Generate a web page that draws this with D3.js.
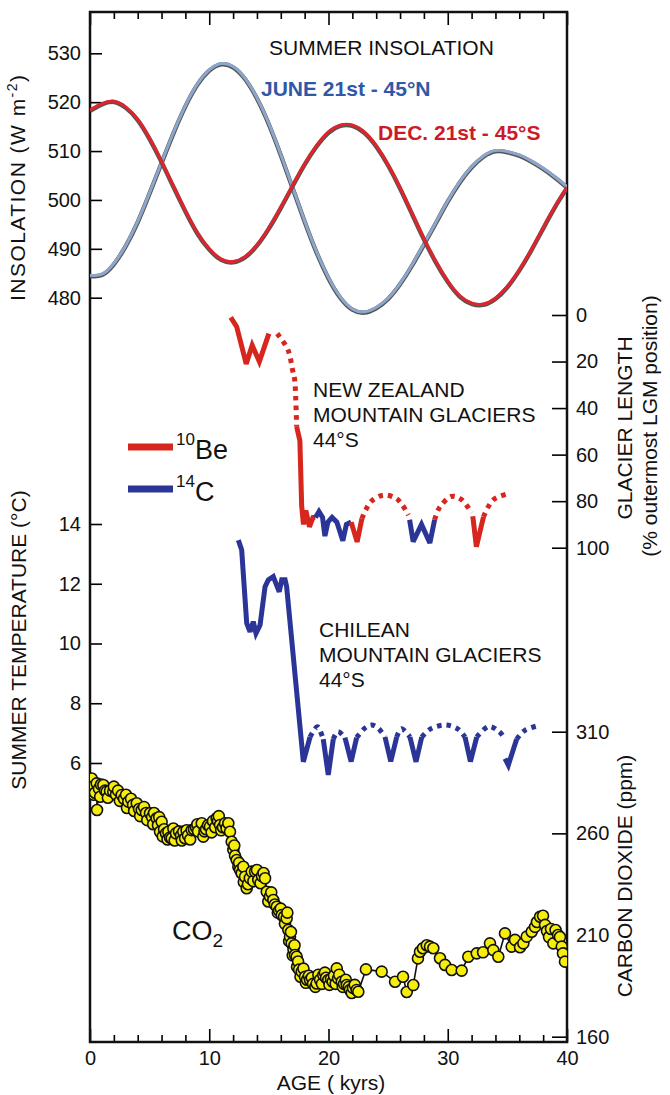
<!DOCTYPE html>
<html>
<head>
<meta charset="utf-8">
<script src="https://cdn.jsdelivr.net/npm/d3@7"></script>
<style>
  body { margin: 0; background: #fff; }
  svg { display: block; font-family: "Liberation Sans", Arial, Helvetica, sans-serif; }
</style>
</head>
<body>
<script>
// ---- data (age in kyr BP) ----
const insAge = [0,1,2,3,4,5,6,7,8,9,10,11,12,13,14,15,16,17,18,19,20,
                21,22,23,24,25,26,27,28,29,30,31,32,33,34,35,36,37,38,39,40];
// June 21st, 45N  (W m-2)
const juneIns = [484.6,484.8,487.0,490.7,495.6,501.5,507.7,513.8,519.3,523.7,526.6,
                 527.9,527.3,524.9,520.9,515.6,509.3,502.5,495.7,489.4,484.1,
                 480.1,477.7,477.1,478.0,479.9,482.9,486.7,491.0,495.4,499.8,
                 503.7,506.8,509.0,510.1,509.9,509.2,508.0,506.5,504.7,502.7];
// Dec 21st, 45S
const decIns = [518.4,519.7,520.2,519.0,516.5,512.6,507.9,502.8,497.8,493.3,490.0,
                487.9,487.4,488.4,490.8,494.3,498.5,503.0,507.4,511.1,513.9,
                515.3,515.3,513.9,511.1,507.2,502.5,497.3,492.1,487.4,483.4,
                480.4,478.9,478.7,479.9,482.3,485.7,489.8,494.3,498.7,502.6];

// New Zealand glacier length (% of outermost LGM position)
const nzSegments = [
  { kind: "10Be", pts: [[11.8,1],[12.3,5],[13.1,21],[13.6,13],[14.2,20],[15.0,8]] },
  { kind: "inferred", pts: [[15.7,8],[16.6,15],[17.0,24],[17.2,30],[17.33,48]] },
  { kind: "10Be", pts: [[17.33,48],[17.6,54],[17.75,82],[17.9,90],[18.1,84],[18.4,91],[18.7,87],[18.9,87]] },
  { kind: "14C", pts: [[18.9,87],[19.2,84.5],[19.5,87],[19.7,95],[19.95,89],[20.3,87],[20.7,89],[21.2,97],[21.5,90],[21.9,89]] },
  { kind: "10Be", pts: [[21.9,89],[22.4,97.5],[22.8,87.5]] },
  { kind: "inferred", pts: [[22.8,87.5],[23.1,84],[23.6,80],[24.6,77.4],[25.6,78.6],[26.2,81.7],[26.7,86]] },
  { kind: "14C", pts: [[26.8,88],[27.1,97.4],[27.8,90],[28.5,98],[28.9,88]] },
  { kind: "inferred", pts: [[28.9,88],[29.35,82.4],[30.3,78],[31.2,79.5],[32.0,85]] },
  { kind: "10Be", pts: [[32.1,86.5],[32.4,99.6],[33.0,86.7]] },
  { kind: "inferred", pts: [[33.0,86.7],[33.8,79.5],[35.2,76.6]] }
];

// Chilean glaciers, plotted against summer temperature (C)
const chileSegments = [
  { kind: "14C", pts: [[12.44,13.46],[12.72,13.13],[13.14,10.68],[13.42,10.39],[13.69,10.73],[13.92,10.34],
                       [14.26,10.62],[14.68,11.9],[14.95,12.13],[15.37,12.24],[15.87,11.73],[16.08,12.13],
                       [16.36,12.13],[16.49,11.9],[17.89,6.04],[18.45,6.87]] },
  { kind: "inferred", pts: [[18.45,6.87],[18.8,7.1],[19.14,7.2],[19.56,6.8]] },
  { kind: "14C", pts: [[19.56,6.8],[19.98,5.6],[20.4,6.8]] },
  { kind: "inferred", pts: [[20.4,6.8],[20.8,7.05],[21.38,6.85]] },
  { kind: "14C", pts: [[21.38,6.85],[21.9,6.05],[22.36,6.85]] },
  { kind: "inferred", pts: [[22.36,6.85],[23.0,7.15],[23.62,7.27],[24.2,7.15],[24.74,6.87]] },
  { kind: "14C", pts: [[24.74,6.87],[25.22,6.05],[25.72,6.87]] },
  { kind: "inferred", pts: [[25.72,6.87],[26.14,7.15],[26.83,6.87]] },
  { kind: "14C", pts: [[26.83,6.87],[27.34,6.04],[27.82,6.87]] },
  { kind: "inferred", pts: [[27.82,6.87],[28.6,7.15],[29.77,7.27],[30.8,7.15],[31.45,6.87]] },
  { kind: "14C", pts: [[31.45,6.87],[31.9,6.05],[32.43,6.87]] },
  { kind: "inferred", pts: [[32.43,6.87],[33.4,7.22],[34.3,7.05],[34.8,6.8]] },
  { kind: "14C", pts: [[34.8,6.15],[35.08,5.93],[35.78,6.8]] },
  { kind: "inferred", pts: [[35.78,6.8],[36.5,7.1],[37.74,7.27]] }
];

// ice core CO2 (ppm)
const co2Age = [
  0.04,0.14,0.25,0.30,0.42,0.56,0.59,0.75,0.85,0.92,
  1.12,1.26,1.40,1.50,1.68,1.95,2.00,2.18,2.35,2.50,
  2.66,2.85,3.02,3.10,3.21,3.44,3.61,3.70,3.92,4.11,
  4.20,4.34,4.53,4.70,4.80,5.03,5.20,5.30,5.37,5.59,
  5.70,5.80,5.87,6.01,6.10,6.21,6.37,6.50,6.57,6.71,
  6.85,6.99,7.10,7.21,7.46,7.63,7.70,7.82,7.97,8.10,
  8.22,8.40,8.53,8.72,8.89,9.00,9.06,9.37,9.50,9.60,
  9.73,9.90,10.06,10.20,10.31,10.50,10.62,10.73,10.80,10.90,
  11.00,11.15,11.32,11.45,11.60,11.74,11.88,12.02,12.10,12.16,
  12.30,12.44,12.50,12.58,12.72,12.86,12.90,13.00,13.14,13.25,
  13.40,13.56,13.70,13.84,14.00,14.11,14.30,14.42,14.55,14.68,
  14.82,14.95,15.09,15.20,15.37,15.50,15.66,15.75,15.85,16.00,
  16.08,16.27,16.35,16.49,16.55,16.63,16.70,16.77,16.85,16.91,
  17.00,17.06,17.15,17.19,17.33,17.36,17.45,17.53,17.65,17.75,
  17.90,18.03,18.10,18.20,18.35,18.45,18.60,18.70,18.90,19.01,
  19.15,19.29,19.45,19.56,19.70,19.79,19.98,20.08,20.21,20.35,
  20.46,20.60,20.69,20.80,20.90,21.11,21.20,21.30,21.45,21.53,
  21.70,21.80,21.95,22.05,22.20,22.36,22.50,23.14,24.46,25.58,
  26.25,26.56,27.11,27.50,27.67,27.92,28.24,28.51,28.79,29.35,
  29.77,30.33,31.17,31.72,32.43,32.96,33.54,33.82,34.24,34.80,
  35.36,35.64,36.06,36.34,36.62,37.04,37.32,37.48,37.74,37.99,
  38.16,38.32,38.49,38.66,38.85,39.04,39.25,39.41,39.56,39.66,
  39.83];
const co2Ppm = [
  285,287,283,279,280,284.6,271.5,282,278,284,
  283.8,281,280.5,277.5,281,280.5,283,279,281,276,
  278.9,277,279,272.5,275.6,277,274,271,274.8,272,
  268.5,271.5,273,270,266.5,269.9,268,264.5,270,267.4,
  264,268,260.8,265.7,258.5,262,260,257,260.8,258,
  257.6,262.4,256.5,260,261,259,256.5,260.8,257.6,261.5,
  259,257,261.6,262,263,264.5,261,265,258.4,261,
  262,264,263.3,260.5,266,263,267.4,266,268.5,264.1,
  261.5,263,265,262.5,265,260.8,255.9,251.8,254,249,
  246.9,243.6,245.5,242,240.4,243.6,236,238.7,233,235,
  238,241.2,236.5,241.2,242,237.1,235.5,239,240.5,237.9,
  231.3,226.5,229,231,227.2,225,223.9,221,222,223,
  219.8,219,215.5,218.2,221,212.5,207,209.2,211.5,205.9,
  200,203,205,200.2,199.3,194.4,197,193,189.5,192,
  193.5,189.5,186.5,188,190,187.9,189,186,184.5,186.2,
  190.5,188,186,190.3,191.5,189,187.9,185.5,188.5,187,
  190,186,193.6,188.7,190.5,187,184.5,186,188,185.4,
  184.5,183,181.5,184,185.5,183,182.1,193.1,192,187,
  189.5,182,185.4,198.5,201.8,203.5,205,204.3,203.5,198.6,
  195.3,192.8,192.5,199.3,201,201.5,205.9,202.6,199.3,210.8,
  204.3,207.6,204,205.9,209.2,211.6,214,216.4,219,219.5,
  215,212,209,213,205.9,212.5,210,209,204.3,201,
  196.9];

// tick values
const ageMajor = [0,10,20,30,40];
const ageMinor = [2,4,6,8,12,14,16,18,22,24,26,28,32,34,36,38];
const insTicks = [480,490,500,510,520,530];
const tempTicks = [6,8,10,12,14];
const glacierTicks = [0,20,40,60,80,100];
const co2Ticks = [160,210,260,310];

// ---- layout ----
const W = 670, H = 1095;
const mL = 90, mR = 567, mT = 12, mB = 1042;

const svg = d3.select("body").append("svg").attr("width", W).attr("height", H);

const x = d3.scaleLinear().domain([0, 40]).range([mL, mR]);
const yIns = d3.scaleLinear().domain([480, 530]).range([297.7, 53.3]);
const yGl = d3.scaleLinear().domain([0, 100]).range([315, 547.7]);
const yT = d3.scaleLinear().domain([6, 14]).range([763, 524]);
const yCO2 = d3.scaleLinear().domain([160, 310]).range([1036.7, 731.7]);

const colors = { "10Be": "#d6261d", "14C": "#2b3597" };

svg.append("clipPath").attr("id", "plot")
  .append("rect").attr("x", mL).attr("y", mT).attr("width", mR - mL).attr("height", mB - mT);

function styleAxis(g) {
  g.select(".domain").remove();
  g.attr("font-family", null).attr("font-size", 20);
  g.selectAll(".tick line").attr("stroke-width", 1.6);
  g.selectAll(".tick text").attr("fill", "#111");
}

// axes
svg.append("g").attr("transform", `translate(${mL},0)`)
  .call(d3.axisLeft(yIns).tickValues(insTicks).tickSize(-12).tickPadding(9)).call(styleAxis);
svg.append("g").attr("transform", `translate(${mL},0)`)
  .call(d3.axisLeft(yT).tickValues(tempTicks).tickSize(-12).tickPadding(9)).call(styleAxis);
svg.append("g").attr("transform", `translate(${mR},0)`)
  .call(d3.axisRight(yGl).tickValues(glacierTicks).tickSize(-15).tickPadding(9)).call(styleAxis);
svg.append("g").attr("transform", `translate(${mR},0)`)
  .call(d3.axisRight(yCO2).tickValues(co2Ticks).tickSize(-15).tickPadding(9)).call(styleAxis);

svg.append("g").attr("transform", `translate(0,${mB})`)
  .call(d3.axisBottom(x).tickValues(ageMajor).tickSize(-13).tickPadding(9)).call(styleAxis);
svg.append("g").attr("transform", `translate(0,${mB})`)
  .call(d3.axisBottom(x).tickValues(ageMinor).tickSize(-7).tickFormat("")).call(styleAxis);
svg.append("g").attr("transform", `translate(0,${mT})`)
  .call(d3.axisTop(x).tickValues(ageMajor).tickSize(-13).tickFormat("")).call(styleAxis);
svg.append("g").attr("transform", `translate(0,${mT})`)
  .call(d3.axisTop(x).tickValues(ageMinor).tickSize(-7).tickFormat("")).call(styleAxis);

svg.append("rect")
  .attr("x", mL).attr("y", mT).attr("width", mR - mL).attr("height", mB - mT)
  .attr("fill", "none").attr("stroke", "#111").attr("stroke-width", 2.5);

const plot = svg.append("g").attr("clip-path", "url(#plot)");

// insolation curves
const insLine = (vals) => d3.line().curve(d3.curveNatural)
  .x((d, i) => x(insAge[i])).y(d => yIns(d))(vals);

[[juneIns, "#8da7cc"], [decIns, "#e3232b"]].forEach(([vals, c]) => {
  plot.append("path").attr("d", insLine(vals)).attr("fill", "none")
    .attr("stroke", "#555").attr("stroke-width", 4.4).attr("transform", "translate(0,0.8)");
  plot.append("path").attr("d", insLine(vals)).attr("fill", "none")
    .attr("stroke", c).attr("stroke-width", 3);
});

// glacier curves
function drawSegments(segs, yScale, dottedColor) {
  segs.forEach(s => {
    const dotted = s.kind === "inferred";
    const gen = d3.line().curve(dotted ? d3.curveCardinal : d3.curveLinear)
      .x(d => x(d[0])).y(d => yScale(d[1]));
    plot.append("path").attr("d", gen(s.pts)).attr("fill", "none")
      .attr("stroke", dotted ? dottedColor : colors[s.kind])
      .attr("stroke-width", 5)
      .attr("stroke-linejoin", "miter").attr("stroke-miterlimit", 3)
      .attr("stroke-dasharray", dotted ? "4.5,5" : null);
  });
}
drawSegments(nzSegments, yGl, colors["10Be"]);
drawSegments(chileSegments, yT, colors["14C"]);

// CO2
const co2 = co2Age.map((a, i) => ({ age: a, ppm: co2Ppm[i] }));
plot.append("path")
  .attr("d", d3.line().x(d => x(d.age)).y(d => yCO2(d.ppm))(co2))
  .attr("fill", "none").attr("stroke", "#111").attr("stroke-width", 1.6);
plot.selectAll("circle.co2").data(co2).enter().append("circle")
  .attr("class", "co2")
  .attr("cx", d => x(d.age)).attr("cy", d => yCO2(d.ppm)).attr("r", 5.5)
  .attr("fill", "#f6ee0a").attr("stroke", "#111").attr("stroke-width", 1.6);

// ---- text ----
function txt(xp, yp, s, size, opts = {}) {
  return svg.append("text").attr("x", xp).attr("y", yp).attr("font-size", size)
    .attr("fill", opts.fill || "#111").attr("font-weight", opts.bold ? "bold" : null)
    .attr("text-anchor", opts.anchor || "start").text(s);
}
txt(269, 55, "SUMMER INSOLATION", 21);
txt(261, 96, "JUNE 21st - 45°N", 21, { fill: "#2f58a8", bold: true });
txt(378, 140, "DEC. 21st - 45°S", 21, { fill: "#cc1b26", bold: true });

["NEW ZEALAND", "MOUNTAIN GLACIERS", "44°S"].forEach((s, i) => txt(313, 397 + i * 25, s, 21));
["CHILEAN", "MOUNTAIN GLACIERS", "44°S"].forEach((s, i) => txt(319, 637 + i * 25, s, 21));

// legend
[["10Be", "10", "Be", 447], ["14C", "14", "C", 489]].forEach(([k, sup, base, ly]) => {
  svg.append("line").attr("x1", 128).attr("x2", 173).attr("y1", ly).attr("y2", ly)
    .attr("stroke", colors[k]).attr("stroke-width", 7);
  const t = svg.append("text").attr("x", 176).attr("y", ly + 12).attr("fill", "#111");
  t.append("tspan").attr("font-size", 17).attr("dy", -14).text(sup);
  t.append("tspan").attr("font-size", 27).attr("dy", 14).text(base);
});

// CO2 label
const co2t = svg.append("text").attr("x", 172).attr("y", 940).attr("fill", "#111");
co2t.append("tspan").attr("font-size", 27).text("CO");
co2t.append("tspan").attr("font-size", 19).attr("dy", 7).text("2");

// axis titles
function vtitle(cx, cy, parts, len) {
  const t = svg.append("text").attr("text-anchor", "middle").attr("fill", "#111")
    .attr("transform", `translate(${cx},${cy}) rotate(-90)`).attr("dy", "0.35em");
  if (len) t.attr("textLength", len).attr("lengthAdjust", "spacing");
  parts.forEach(p => {
    t.append("tspan").attr("font-size", p.size || 21).attr("dy", p.dy || 0).text(p.s);
  });
}
vtitle(25, 188, [{ s: "INSOLATION (W m" }, { s: "-2", size: 14, dy: -8 }, { s: ")", dy: 8 }], 226);
vtitle(26, 640, [{ s: "SUMMER TEMPERATURE (°C)" }]);
vtitle(632, 428, [{ s: "GLACIER LENGTH" }]);
vtitle(657, 426, [{ s: "(% outermost LGM position)" }]);
vtitle(632, 876, [{ s: "CARBON DIOXIDE (ppm)" }]);

txt(331, 1090, "AGE ( kyrs)", 21, { anchor: "middle" });
</script>
</body>
</html>
